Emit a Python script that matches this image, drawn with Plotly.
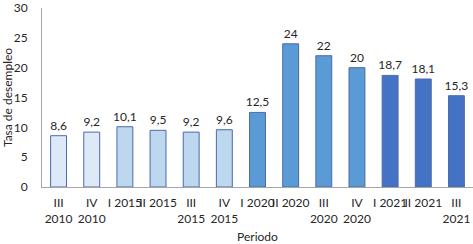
import plotly.graph_objects as go

periods = ["III<br>2010", "IV<br>2010", "I 2015", "II 2015", "III<br>2015", "IV<br>2015",
           "I 2020", "II 2020", "III<br>2020", "IV<br>2020", "I 2021", "II 2021", "III<br>2021"]
rates = [8.6, 9.2, 10.1, 9.5, 9.2, 9.6, 12.5, 24, 22, 20, 18.7, 18.1, 15.3]
bar_colors = ["#dde9f7", "#dde9f7",
              "#bdd7ee", "#bdd7ee", "#bdd7ee", "#bdd7ee",
              "#5b9bd5", "#5b9bd5", "#5b9bd5", "#5b9bd5",
              "#4472c4", "#4472c4", "#4472c4"]
labels = [f"{v:g}".replace(".", ",") for v in rates]

fig = go.Figure(go.Bar(
    x=periods, y=rates,
    marker=dict(color=bar_colors, line=dict(color="#4a6aae", width=1)),
    text=labels, textposition="outside", cliponaxis=False, constraintext="none",
    textfont=dict(family="Lato", size=12, color="#262626"),
))

fig.update_layout(
    width=473, height=244,
    margin=dict(l=42, r=0, t=8, b=57),
    paper_bgcolor="white", plot_bgcolor="white",
    bargap=0.52,
    showlegend=False,
    font=dict(family="Lato", size=12, color="#404040"),
)
fig.update_yaxes(range=[0, 30], dtick=5, showgrid=False, zeroline=False,
                 showline=True, linecolor="#a6a6a6", linewidth=1, automargin=False,
                 ticks="", ticklabelstandoff=11, tickfont=dict(size=12, color="#262626"),
                 title=dict(text="Tasa de desempleo", standoff=2,
                            font=dict(size=12, color="#262626")))
fig.update_xaxes(showgrid=False, showline=True, linecolor="#a6a6a6", linewidth=1,
                 automargin=False,
                 ticks="", tickangle=0, ticklabelstandoff=5,
                 tickfont=dict(size=12, color="#262626"),
                 title=dict(text="Periodo", standoff=8,
                            font=dict(size=12, color="#262626")))

fig.write_html("out.html", config={"displayModeBar": False},
               post_script="document.body.style.margin='0px';")
